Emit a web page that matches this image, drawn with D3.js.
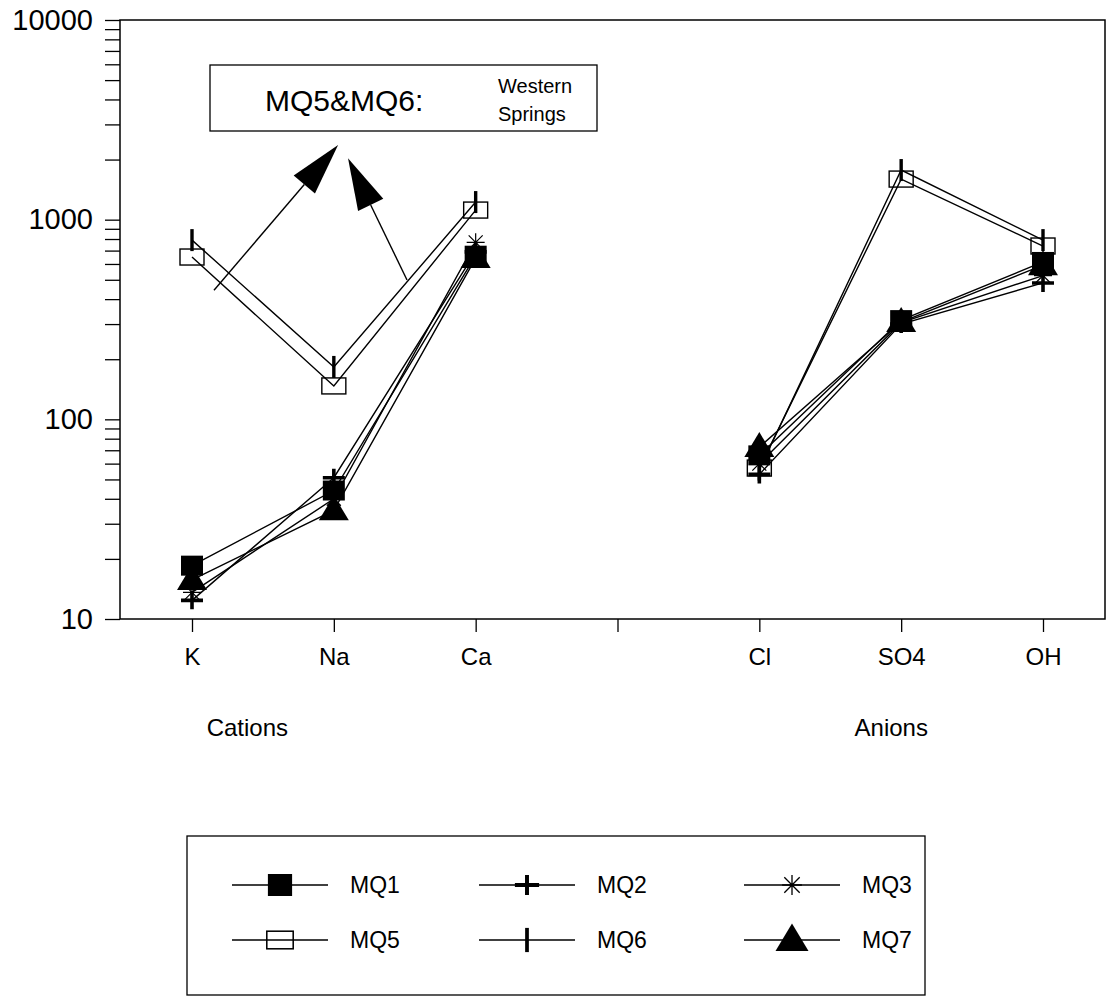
<!DOCTYPE html>
<html>
<head>
<meta charset="utf-8">
<script src="https://cdn.jsdelivr.net/npm/d3@7"></script>
<style>
  html, body { margin: 0; padding: 0; background: #fff; }
  svg { display: block; font-family: "Liberation Sans", Arial, Helvetica, sans-serif; }
</style>
</head>
<body>
<svg id="chart" width="1107" height="1008"></svg>
<script>
// Ion categories along the x axis; the empty slot separates cations from anions
const categories = ["K", "Na", "Ca", "", "Cl", "SO4", "OH"];
const groupLabels = ["Cations", "Anions"];

// Concentrations per sample (null = no value at the separator slot)
const seriesNames = ["MQ1", "MQ2", "MQ3", "MQ5", "MQ6", "MQ7"];
const mq1 = [18.5, 44, 660, null, 66, 314, 614];
const mq2 = [12.4, 51, 690, null, 53, 300, 482];
const mq3 = [13.6, 40, 770, null, 60, 305, 525];
const mq5 = [650, 147, 1117, null, 57, 1597, 738];
const mq6 = [790, 183, 1225, null, 56, 1772, 790];
const mq7 = [15.7, 35, 642, null, 72.6, 307, 592];

const yTickValues = [10, 100, 1000, 10000];
const annotationTitle = "MQ5&MQ6:";
const annotationNote = ["Western", "Springs"];

const markers = ["filledSquare", "plus", "asterisk", "openSquare", "tick", "triangle"];
const series = [mq1, mq2, mq3, mq5, mq6, mq7].map((values, i) => ({
  name: seriesNames[i], values, marker: markers[i]
}));

const svg = d3.select("#chart");
const frame = { left: 120, right: 1105, top: 20, bottom: 619 };

const x = d3.scalePoint().domain(categories).range([192, 1043]);
const xAt = i => x(categories[0]) + i * x.step();
const y = d3.scaleLog().domain([10, 10000]).range([frame.bottom, frame.top]);

// Left axis: decade labels plus minor ticks 2..9 in every decade
const allYTicks = [];
for (let d = 10; d < 10000; d *= 10) for (let k = 1; k < 10; k++) allYTicks.push(d * k);
allYTicks.push(10000);

const yAxis = svg.append("g")
  .attr("transform", `translate(${frame.left},0)`)
  .call(d3.axisLeft(y).tickValues(allYTicks).tickSize(15).tickPadding(12)
    .tickFormat(v => yTickValues.includes(v) ? d3.format("d")(v) : ""));
yAxis.select(".domain").remove();
yAxis.selectAll(".tick line").attr("stroke", "#000").attr("stroke-width", 1.3);
yAxis.selectAll("text").attr("font-size", 29).attr("fill", "#000")
  .attr("font-family", "Liberation Sans, Arial, sans-serif");

const xAxis = svg.append("g")
  .attr("transform", `translate(0,${frame.bottom})`)
  .call(d3.axisBottom(x).tickSize(13).tickPadding(16));
xAxis.select(".domain").remove();
xAxis.selectAll(".tick line").attr("stroke", "#000").attr("stroke-width", 1.3);
xAxis.selectAll("text").attr("font-size", 24).attr("fill", "#000")
  .attr("font-family", "Liberation Sans, Arial, sans-serif");

// Plot frame
svg.append("rect")
  .attr("x", frame.left).attr("y", frame.top)
  .attr("width", frame.right - frame.left).attr("height", frame.bottom - frame.top)
  .attr("fill", "none").attr("stroke", "#000").attr("stroke-width", 1.5);

// Group labels under the axis
svg.append("text").attr("x", xAt(0.39)).attr("y", 727)
  .attr("text-anchor", "middle").attr("dominant-baseline", "central")
  .attr("font-size", 24).text(groupLabels[0]);
svg.append("text").attr("x", xAt(4.93)).attr("y", 727)
  .attr("text-anchor", "middle").attr("dominant-baseline", "central")
  .attr("font-size", 24).text(groupLabels[1]);

// Marker painters
function drawMarker(g, type, cx, cy, k = 1) {
  const m = g.append("g").attr("transform", `translate(${cx},${cy}) scale(${k})`);
  switch (type) {
    case "filledSquare":
      m.append("rect").attr("x", -11).attr("y", -10).attr("width", 22).attr("height", 20).attr("fill", "#000");
      break;
    case "openSquare":
      m.append("rect").attr("x", -12).attr("y", -8).attr("width", 24).attr("height", 16)
        .attr("fill", "none").attr("stroke", "#000").attr("stroke-width", 1.4);
      break;
    case "plus":
      m.append("path").attr("d", "M-11,0H11M0,-9V9").attr("stroke", "#000").attr("stroke-width", 3.6);
      break;
    case "tick":
      m.append("path").attr("d", "M0,-11V11").attr("stroke", "#000").attr("stroke-width", 3.4);
      break;
    case "asterisk":
      m.append("path").attr("d", "M0,-9V9M-9,0H9M-7,-7L7,7M-7,7L7,-7")
        .attr("stroke", "#000").attr("stroke-width", 1.2);
      break;
    case "triangle":
      m.append("path").attr("d", "M0,-15L15,10H-15Z").attr("fill", "#000");
      break;
  }
}

// Series lines (broken at the separator) then markers
const line = d3.line()
  .defined(d => d.v != null)
  .x(d => x(d.c))
  .y(d => y(d.v));

const plot = svg.append("g");
series.forEach(s => {
  const pts = categories.map((c, i) => ({ c, v: s.values[i] }));
  plot.append("path").datum(pts).attr("d", line)
    .attr("fill", "none").attr("stroke", "#000").attr("stroke-width", 1.4);
});
series.forEach(s => {
  categories.forEach((c, i) => {
    if (s.values[i] != null) drawMarker(plot, s.marker, x(c), y(s.values[i]));
  });
});

// Annotation box and arrows pointing to the western-spring samples
const ann = svg.append("g");
ann.append("rect").attr("x", 210).attr("y", 65).attr("width", 387).attr("height", 66)
  .attr("fill", "#fff").attr("stroke", "#000").attr("stroke-width", 1.3);
ann.append("text").attr("x", 265).attr("y", 100).attr("dominant-baseline", "central")
  .attr("font-size", 30).text(annotationTitle);
annotationNote.forEach((t, i) => {
  ann.append("text").attr("x", 498).attr("y", 86 + i * 28).attr("dominant-baseline", "central")
    .attr("font-size", 20).text(t);
});

function arrow(tail, tip) {
  const x0 = xAt(tail[0]), y0 = y(tail[1]);
  const x1 = xAt(tip[0]), y1 = y(tip[1]);
  const dx = x1 - x0, dy = y1 - y0, len = Math.hypot(dx, dy);
  const ux = dx / len, uy = dy / len, headLen = 52, headW = 14;
  const bx = x1 - ux * headLen, by = y1 - uy * headLen;
  ann.append("line").attr("x1", x0).attr("y1", y0).attr("x2", bx).attr("y2", by)
    .attr("stroke", "#000").attr("stroke-width", 1.4);
  ann.append("path")
    .attr("d", `M${x1},${y1}L${bx - uy * headW},${by + ux * headW}L${bx + uy * headW},${by - ux * headW}Z`)
    .attr("fill", "#000");
}
arrow([0.155, 443], [1.03, 2366]);
arrow([1.516, 499], [1.10, 2032]);

// Legend
const legend = svg.append("g");
legend.append("rect").attr("x", 187).attr("y", 836).attr("width", 738).attr("height", 159)
  .attr("fill", "none").attr("stroke", "#000").attr("stroke-width", 1.3);
const colX = [280, 527, 792];
const rowY = [885, 940];
series.forEach((s, i) => {
  const cx = colX[i % 3], cy = rowY[Math.floor(i / 3)];
  legend.append("line").attr("x1", cx - 48).attr("x2", cx + 48).attr("y1", cy).attr("y2", cy)
    .attr("stroke", "#000").attr("stroke-width", 1.4);
  drawMarker(legend, s.marker, cx, cy, 1.1);
  legend.append("text").attr("x", cx + 70).attr("y", cy).attr("dominant-baseline", "central")
    .attr("font-size", 23).text(s.name);
});
</script>
</body>
</html>
